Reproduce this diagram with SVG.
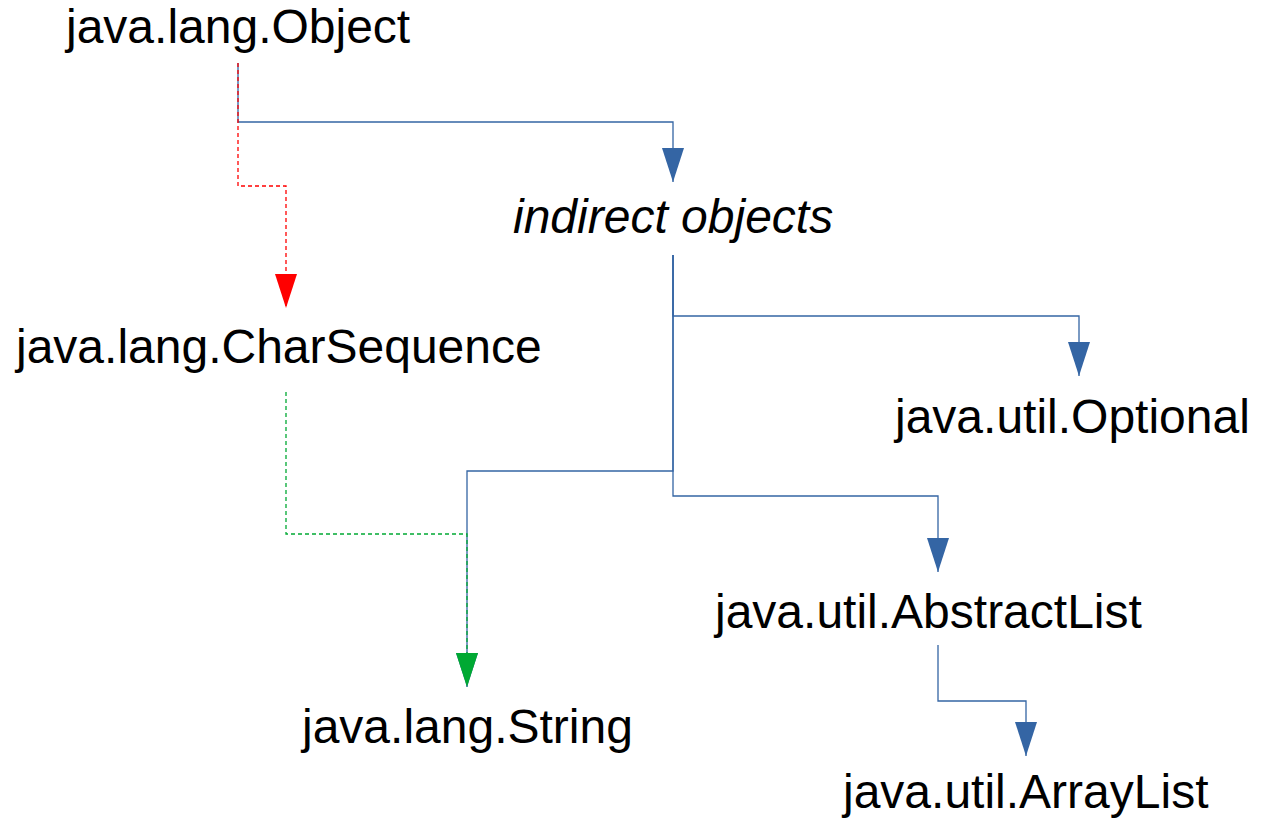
<svg xmlns="http://www.w3.org/2000/svg" width="1268" height="819" viewBox="0 0 1268 819">
<style>
text{font-family:"Liberation Sans",Arial,sans-serif;font-size:48px;fill:#000}
.it{font-style:italic}
.blue{fill:none;stroke:#3465a4;stroke-width:1.3}
.red{fill:none;stroke:#ff0000;stroke-width:1.3;stroke-dasharray:4,3}
.green{fill:none;stroke:#00a933;stroke-width:1.3;stroke-dasharray:4,3}
</style>
<defs>
<marker id="ab" markerUnits="userSpaceOnUse" viewBox="0 0 34 22" refX="34" refY="11" markerWidth="34" markerHeight="22" orient="auto"><path d="M0,0 L34,11 L0,22 Z" fill="#3465a4"/></marker>
<marker id="ar" markerUnits="userSpaceOnUse" viewBox="0 0 34 22" refX="34" refY="11" markerWidth="34" markerHeight="22" orient="auto"><path d="M0,0 L34,11 L0,22 Z" fill="#ff0000"/></marker>
<marker id="ag" markerUnits="userSpaceOnUse" viewBox="0 0 34 22" refX="34" refY="11" markerWidth="34" markerHeight="22" orient="auto"><path d="M0,0 L34,11 L0,22 Z" fill="#00a933"/></marker>
</defs>
<g id="connectors">
<path class="blue" d="M238,63 V122 H673 V182" marker-end="url(#ab)"/>
<path class="red" d="M238,63 V186 H286 V308" marker-end="url(#ar)"/>
<path class="blue" d="M673,255 V316 H1079 V376" marker-end="url(#ab)"/>
<path class="blue" d="M673,255 V496 H938 V572" marker-end="url(#ab)"/>
<path class="blue" d="M673,255 V471 H467 V687" marker-end="url(#ab)"/>
<path class="green" d="M286,392 V534 H467 V687" marker-end="url(#ag)"/>
<path class="blue" d="M938,645 V701 H1026 V756" marker-end="url(#ab)"/>
</g>
<g id="object"><text x="66" y="43">java.lang.Object</text></g>
<g id="indirect"><text class="it" x="513" y="233">indirect objects</text></g>
<g id="charsequence"><text x="16" y="363">java.lang.CharSequence</text></g>
<g id="optional"><text x="895" y="433">java.util.Optional</text></g>
<g id="abstractlist"><text x="715" y="628">java.util.AbstractList</text></g>
<g id="string"><text x="302" y="743">java.lang.String</text></g>
<g id="arraylist"><text x="843" y="808">java.util.ArrayList</text></g>
</svg>
